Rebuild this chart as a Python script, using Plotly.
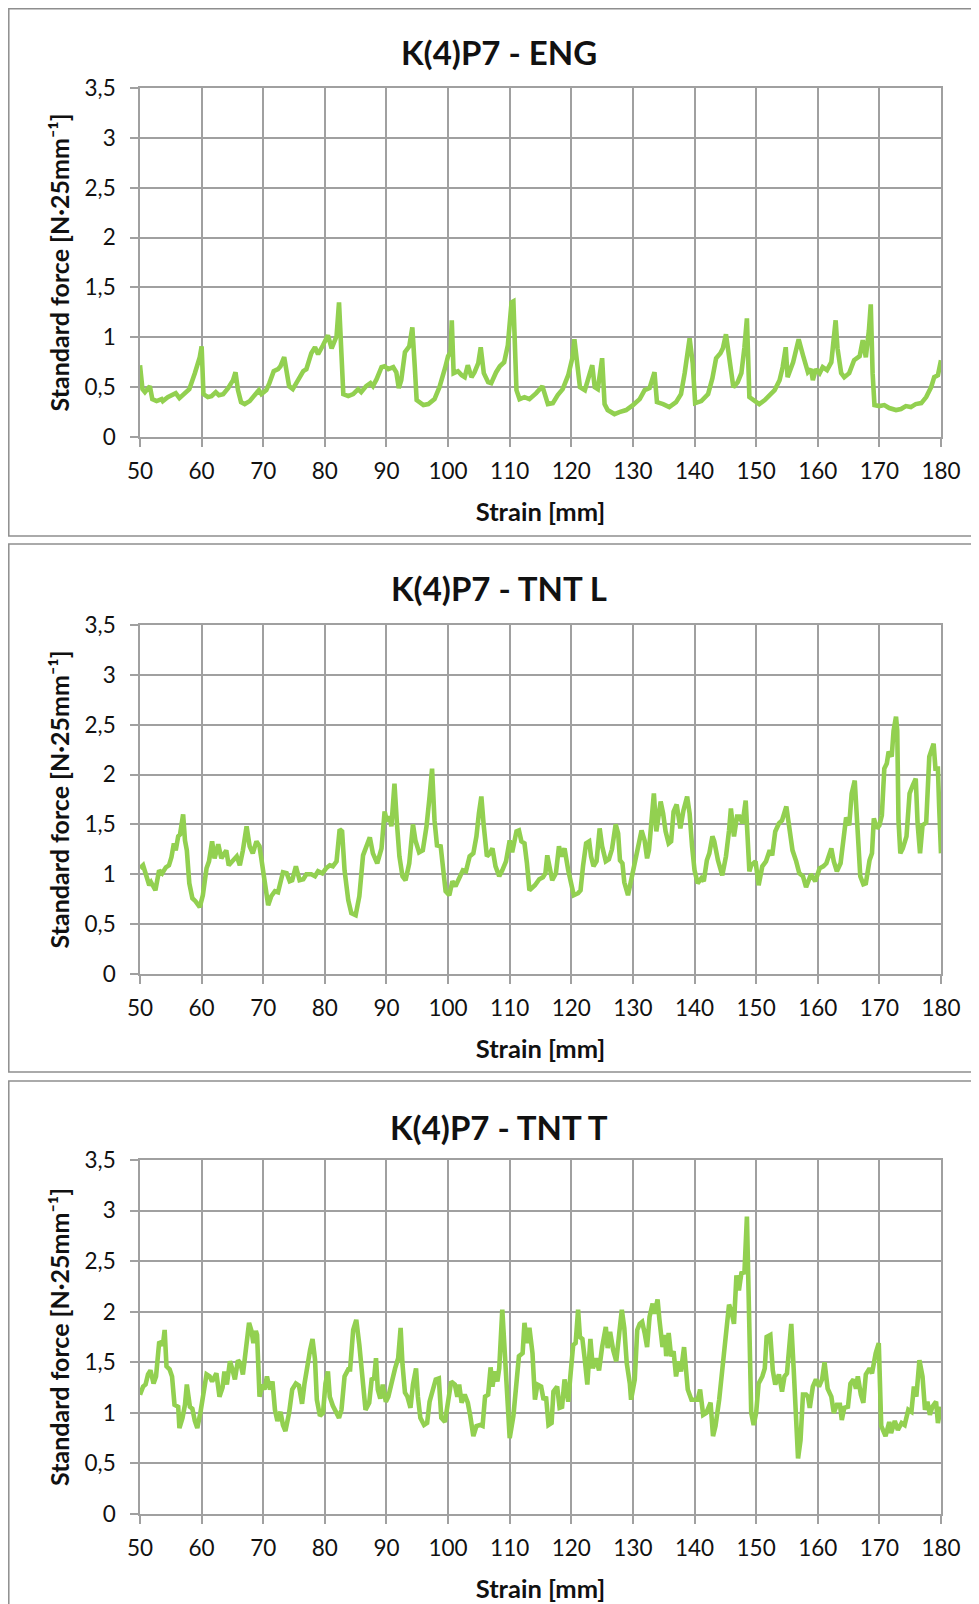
import plotly.graph_objects as go

# Positions below are given in the reference picture's pixels (979x1604).
# The page body has an 8px margin, so figure pixel = picture pixel - 8.
SX, OX = 1.0, 8.0
SY, OY = 1.0, 8.0
FW, FH = 971, 1596

# ---------------- data ----------------
titles = ["K(4)P7 - ENG", "K(4)P7 - TNT L", "K(4)P7 - TNT T"]
x_title = "Strain [mm]"
y_title = "Standard force [N·25mm⁻¹]"
x_tickvals = [50, 60, 70, 80, 90, 100, 110, 120, 130, 140, 150, 160, 170, 180]
x_ticktext = ["50", "60", "70", "80", "90", "100", "110", "120", "130", "140", "150", "160", "170", "180"]
y_tickvals = [0, 0.5, 1, 1.5, 2, 2.5, 3, 3.5]
y_ticktext = ["0", "0,5", "1", "1,5", "2", "2,5", "3", "3,5"]

strain_eng = [
    50, 50.4, 50.8, 51.6, 52, 52.7, 53.5, 53.7, 54.5, 55.4,
    55.8, 56.4, 57.3, 58, 58.9, 59.7, 60, 60.3, 61, 61.6,
    62.3, 62.8, 63.5, 64.3, 65.1, 65.5, 65.9, 66.4, 67, 67.8,
    68.6, 69.3, 69.7, 70.5, 71, 71.7, 72.4, 72.8, 73.4, 73.8,
    74.2, 74.8, 75.6, 76.5, 77, 77.8, 78.4, 78.9, 79.7, 80.5,
    81.1, 81.9, 82.3, 82.6, 83, 83.8, 84.6, 85.4, 85.9, 86.7,
    87.4, 87.8, 88.4, 89.2, 89.7, 90.3, 91.1, 91.6, 92, 92.4,
    93, 93.7, 94.2, 94.6, 94.9, 96, 96.8, 97.8, 98.6, 99.5,
    100, 100.4, 100.6, 100.9, 101.6, 102.2, 102.7, 103.2, 103.8, 104.3,
    104.9, 105.3, 105.8, 106.5, 107, 107.8, 108.4, 109.1, 109.7, 110.3,
    110.6, 111.1, 111.6, 112.4, 113.2, 114.3, 115.3, 116.2, 117, 117.8,
    118.6, 119.5, 120.2, 120.5, 120.9, 121.4, 122.2, 122.9, 123.4, 123.8,
    124.3, 125, 125.4, 125.9, 127, 127.8, 128.9, 130, 131.1, 131.9,
    132.7, 133.5, 133.9, 134.9, 135.9, 137, 137.8, 138.4, 138.9, 139.2,
    139.7, 140.1, 141.1, 142.2, 142.9, 143.5, 144.2, 144.6, 145.1, 145.7,
    146.3, 147, 147.6, 148.1, 148.5, 148.9, 149.7, 150.5, 151.4, 152.2,
    153, 153.8, 154.3, 154.8, 155.1, 156, 156.5, 156.9, 157.6, 158.4,
    158.9, 159.2, 159.7, 160.3, 160.8, 161.5, 162.2, 162.6, 162.9, 163.2,
    163.8, 164.3, 165.1, 165.9, 166.8, 167.3, 167.8, 168.3, 168.6, 168.9,
    169.2, 170, 170.8, 171.6, 172.7, 173.5, 174.3, 175.1, 175.9, 176.8,
    177.6, 178.4, 178.9, 179.5, 180,
]
force_eng = [
    0.72, 0.48, 0.45, 0.51, 0.38, 0.36, 0.38, 0.36, 0.40, 0.42,
    0.44, 0.39, 0.45, 0.48, 0.64, 0.80, 0.91, 0.43, 0.40, 0.41,
    0.45, 0.42, 0.43, 0.49, 0.57, 0.65, 0.47, 0.35, 0.33, 0.36,
    0.42, 0.47, 0.43, 0.47, 0.54, 0.66, 0.68, 0.71, 0.80, 0.65,
    0.51, 0.48, 0.57, 0.66, 0.68, 0.84, 0.90, 0.83, 0.92, 1.02,
    0.89, 1.01, 1.35, 0.90, 0.43, 0.41, 0.43, 0.48, 0.45, 0.51,
    0.54, 0.51, 0.58, 0.70, 0.71, 0.68, 0.70, 0.65, 0.49, 0.57,
    0.85, 0.91, 1.10, 0.70, 0.37, 0.32, 0.33, 0.38, 0.50, 0.69,
    0.81, 0.85, 1.17, 0.64, 0.66, 0.62, 0.60, 0.72, 0.60, 0.65,
    0.74, 0.90, 0.64, 0.55, 0.54, 0.65, 0.71, 0.75, 0.92, 1.35,
    1.36, 0.47, 0.38, 0.40, 0.38, 0.44, 0.51, 0.33, 0.34, 0.42,
    0.48, 0.62, 0.80, 0.98, 0.72, 0.50, 0.47, 0.60, 0.72, 0.50,
    0.48, 0.79, 0.33, 0.27, 0.23, 0.25, 0.27, 0.32, 0.38, 0.47,
    0.49, 0.65, 0.35, 0.33, 0.30, 0.35, 0.43, 0.64, 0.82, 0.99,
    0.74, 0.34, 0.36, 0.43, 0.59, 0.79, 0.84, 0.89, 1.03, 0.74,
    0.50, 0.55, 0.64, 0.90, 1.19, 0.40, 0.37, 0.33, 0.37, 0.42,
    0.47, 0.57, 0.70, 0.90, 0.60, 0.75, 0.87, 0.98, 0.82, 0.65,
    0.68, 0.57, 0.68, 0.64, 0.70, 0.67, 0.75, 0.99, 1.17, 0.89,
    0.64, 0.60, 0.64, 0.77, 0.81, 0.97, 0.80, 1.07, 1.33, 0.64,
    0.32, 0.31, 0.32, 0.29, 0.27, 0.28, 0.31, 0.30, 0.33, 0.34,
    0.40, 0.50, 0.60, 0.62, 0.77,
]

strain_tntl = [
    50, 50.5, 51, 51.5, 51.8, 52.2, 52.5, 53.1, 53.6, 54.2,
    54.7, 55.1, 55.5, 55.8, 56.2, 56.5, 57, 57.3, 57.6, 58,
    58.5, 59, 59.7, 60.2, 60.8, 61.2, 61.7, 62.1, 62.7, 63.2,
    64, 64.4, 65.1, 65.7, 66.2, 66.7, 67.3, 67.8, 68.3, 68.9,
    69.4, 70, 70.4, 70.8, 71.3, 71.9, 72.4, 73.2, 73.8, 74.3,
    74.7, 75.3, 75.9, 76.5, 77, 77.8, 78.4, 78.9, 79.6, 80.2,
    80.8, 81.3, 81.9, 82.4, 82.8, 83.2, 83.8, 84.3, 85, 85.6,
    86.2, 86.7, 87.3, 87.8, 88.5, 89.2, 89.7, 90.1, 90.5, 90.8,
    91.3, 91.7, 92.1, 92.6, 93.1, 93.7, 94.3, 94.7, 95.3, 95.9,
    96.5, 97, 97.4, 97.8, 98.2, 98.8, 99.2, 99.6, 100.2, 100.7,
    101.2, 101.9, 102.4, 102.9, 103.5, 104.1, 104.6, 105, 105.4, 105.8,
    106.3, 106.8, 107.2, 107.7, 108.3, 108.8, 109.4, 110, 110.4, 111.1,
    111.5, 111.9, 112.4, 112.8, 113.2,
    114.1, 114.8, 115.4, 115.8, 116.1, 116.5, 116.9, 117.5, 118, 118.4,
    118.9, 119.5, 119.8, 120.4, 121.1, 121.5, 121.9, 122.4, 122.9, 123.2,
    123.6, 124.1, 124.6, 125, 125.6, 126.1, 126.6, 127.2, 127.6, 127.9,
    128.3, 128.6, 129.2, 129.7, 130.3, 130.8, 131.4, 131.9, 132.3, 132.6,
    133, 133.4, 133.8, 134.5, 134.9, 135.3, 135.8, 136.2, 136.6, 137.1,
    137.7, 138.2, 138.8, 139.2, 139.6, 140, 140.5, 141.1, 141.5, 142,
    142.4, 142.9, 143.2, 143.8, 144.5, 145.1, 145.6, 145.9, 146.4, 146.9,
    147.3, 147.8, 148.3, 148.6, 148.9, 149.2, 149.9, 150.4, 151, 151.6,
    152.2, 152.6, 153.1, 153.7, 154.2, 154.9, 155.4, 155.9, 156.5, 157,
    157.6, 158.1, 158.9, 159.6, 160.3, 160.9, 161.4, 162.2, 162.6, 163.1,
    163.7, 164.1, 164.6, 165.1, 165.5, 166, 166.4, 166.9, 167.4, 167.8,
    168.4, 168.8, 169.1, 169.6, 170, 170.4, 170.8, 171.2, 171.5, 172,
    172.3, 172.7, 172.9, 173.1, 173.4, 173.8, 174.4, 174.9, 175.4, 175.9,
    176.2, 176.6, 177, 177.6, 178.1, 178.8, 179.1, 179.5, 179.7, 180,
]
force_tntl = [
    1.06, 1.09, 0.99, 0.89, 0.92, 0.88, 0.84, 1.04, 1.01, 1.07,
    1.09, 1.17, 1.31, 1.24, 1.38, 1.40, 1.60, 1.34, 1.24, 0.91,
    0.76, 0.73, 0.67, 0.79, 1.06, 1.13, 1.33, 1.16, 1.30, 1.16,
    1.24, 1.09, 1.13, 1.18, 1.09, 1.24, 1.48, 1.28, 1.21, 1.33,
    1.28, 1.04, 0.83, 0.69, 0.78, 0.83, 0.82, 1.02, 1.01, 0.93,
    0.94, 1.08, 0.94, 0.95, 1.00, 1.00, 0.98, 1.03, 1.01, 1.06,
    1.09, 1.08, 1.13, 1.45, 1.43, 1.04, 0.74, 0.61, 0.59, 0.78,
    1.19, 1.28, 1.37, 1.21, 1.11, 1.26, 1.63, 1.53, 1.58, 1.48,
    1.91, 1.51, 1.18, 0.98, 0.94, 1.11, 1.50, 1.34, 1.22, 1.24,
    1.48, 1.78, 2.06, 1.54, 1.29, 1.28, 1.04, 0.83, 0.79, 0.93,
    0.88, 0.98, 1.04, 1.03, 1.18, 1.21, 1.38, 1.61, 1.78, 1.48,
    1.18, 1.21, 1.26, 1.08, 0.98, 1.04, 1.13, 1.34, 1.22, 1.43,
    1.44, 1.33, 1.31, 1.11, 0.84,
    0.89, 0.95, 0.97, 1.01, 1.19, 1.08, 0.94, 1.01, 1.28, 1.18,
    1.26, 1.04, 0.94, 0.79, 0.81, 0.84, 1.08, 1.31, 1.33, 1.18,
    1.08, 1.13, 1.46, 1.28, 1.13, 1.15, 1.25, 1.50, 1.41, 1.14,
    1.11, 0.92, 0.79, 0.93, 1.13, 1.24, 1.44, 1.34, 1.16, 1.24,
    1.61, 1.81, 1.43, 1.73, 1.61, 1.43, 1.31, 1.33, 1.63, 1.70,
    1.46, 1.64, 1.78, 1.61, 1.28, 1.04, 0.91, 0.96, 0.93, 1.14,
    1.21, 1.38, 1.33, 1.14, 0.99, 1.18, 1.44, 1.66, 1.38, 1.58,
    1.58, 1.51, 1.74, 1.38, 1.03, 1.09, 1.13, 0.89, 1.08, 1.13,
    1.24, 1.19, 1.43, 1.51, 1.54, 1.68, 1.48, 1.24, 1.13, 1.01,
    0.98, 0.87, 1.00, 0.93, 1.06, 1.08, 1.11, 1.26, 1.13, 1.03,
    1.11, 1.34, 1.57, 1.49, 1.81, 1.94, 1.48, 0.98, 0.90, 0.91,
    1.14, 1.21, 1.56, 1.46, 1.49, 1.59, 2.06, 2.11, 2.23, 2.18,
    2.44, 2.58, 2.44, 1.54, 1.21, 1.26, 1.38, 1.81, 1.89, 1.96,
    1.51, 1.21, 1.49, 1.52, 2.18, 2.31, 2.06, 2.06, 1.68, 1.21,
]

strain_tntt = [
    50, 50.5, 50.9, 51.3, 51.7, 52.2, 52.6, 53.1, 53.5, 53.7,
    54, 54.3, 54.8, 55.2, 55.6, 56.2, 56.4, 56.9, 57.3, 57.6,
    58.1, 58.5, 58.9, 59.3, 59.8, 60.2, 60.8, 61.3, 61.7, 62.4,
    62.9, 63.4, 63.7, 64.1, 64.6, 65, 65.4, 65.9, 66.3, 66.7,
    67.1, 67.7, 68.1, 68.4, 68.8, 69, 69.4, 69.9, 70.2, 70.6,
    71.1, 71.5, 71.9, 72.3, 72.8, 73.2, 73.6, 74.2, 74.7, 75.3,
    75.8, 76.3, 76.7, 77.3, 77.6, 78, 78.4, 78.7, 79.2, 79.7,
    80.1, 80.5, 80.8, 81.3, 81.9, 82.3, 82.7, 83.2, 83.8, 84.1,
    84.6, 85.1, 85.6, 86.1, 86.6, 87.2, 87.6, 88, 88.3, 88.6,
    89, 89.4, 89.9, 90.3, 90.8, 91.4, 91.9, 92.3, 92.6, 93,
    93.4, 93.9, 94.3, 94.8, 95.1, 95.5, 96.1, 96.6, 97, 97.6,
    98, 98.5, 98.9, 99.5, 100, 100.5, 101.1, 101.5, 101.8, 102.2,
    102.7, 103.2, 103.6, 104.1, 104.6, 105.2, 105.6, 106, 106.5, 106.9,
    107.2, 107.6, 108, 108.3, 108.8, 109.2, 109.6, 110, 110.6, 111.1,
    111.5, 112.1, 112.4, 112.8, 113.2,
    113.7, 114.1, 114.5, 115.1, 115.5, 115.9, 116.3, 116.8, 117.1, 117.7,
    118.1, 118.5, 118.9, 119.5, 119.8, 120.3, 120.7, 121.1, 121.4, 121.8,
    122.2, 122.6, 123.1, 123.5, 124, 124.5, 125, 125.6, 125.9, 126.3,
    126.8, 127.3, 127.8, 128.2, 128.6, 129, 129.5, 129.7, 130.3, 130.7,
    131.1, 131.5, 131.9, 132.3, 132.7, 133.2, 133.5, 134, 134.3, 134.8,
    135.2, 135.4, 135.8, 136.2, 136.6, 137, 137.4, 137.8, 138.3, 138.6,
    138.9, 139.5, 140, 140.5, 140.9, 141.4, 141.9, 142.6, 143, 143.4,
    144, 144.5, 145.1, 145.6, 146, 146.4, 146.8, 147.2, 147.6, 148.1,
    148.5, 148.8, 149.2, 149.6, 150, 150.4, 151, 151.4, 151.7, 152.3,
    152.7, 153.1, 153.7, 154.2, 154.6, 155, 155.7, 156.1, 156.4, 156.8,
    157.2, 157.6, 158.1, 158.4, 158.7, 159.2, 159.7, 160.2, 160.7, 161.1,
    161.6, 162.2, 162.6, 163.1, 163.6, 163.9, 164.3, 164.9, 165.3, 165.8,
    166.2, 166.5, 167, 167.4, 167.8, 168.4, 168.8, 169.4, 169.9, 170.3,
    171, 171.6, 171.9, 172.5, 173, 173.6, 174.1, 174.7, 175.2, 175.6,
    176, 176.5, 177, 177.4, 177.8, 178.2, 178.6, 179.2, 179.5, 180,
]
force_tntt = [
    1.18, 1.26, 1.28, 1.38, 1.42, 1.29, 1.36, 1.69, 1.70, 1.66,
    1.82, 1.46, 1.43, 1.36, 1.08, 1.06, 0.85, 0.95, 1.08, 1.28,
    1.06, 1.04, 0.92, 0.85, 1.00, 1.16, 1.38, 1.36, 1.31, 1.39,
    1.16, 1.25, 1.41, 1.28, 1.51, 1.43, 1.33, 1.52, 1.49, 1.38,
    1.61, 1.89, 1.81, 1.69, 1.81, 1.77, 1.16, 1.28, 1.23, 1.36,
    1.23, 1.31, 1.03, 0.92, 1.01, 0.88, 0.82, 1.00, 1.23, 1.29,
    1.27, 1.09, 1.29, 1.56, 1.62, 1.73, 1.53, 1.13, 0.97, 1.00,
    1.29, 1.41, 1.16, 1.07, 1.01, 0.95, 1.03, 1.36, 1.43, 1.43,
    1.82, 1.92, 1.67, 1.36, 1.03, 1.10, 1.33, 1.34, 1.54, 1.23,
    1.14, 1.28, 1.11, 1.16, 1.31, 1.44, 1.54, 1.84, 1.48, 1.20,
    1.16, 1.05, 1.28, 1.44, 1.16, 0.95, 0.88, 0.90, 1.11, 1.26,
    1.33, 1.34, 0.95, 0.91, 1.11, 1.31, 1.28, 1.16, 1.28, 1.10,
    1.18, 1.10, 0.97, 0.77, 0.87, 0.88, 0.87, 1.16, 1.18, 1.45,
    1.26, 1.41, 1.31, 1.44, 2.02, 1.56, 1.23, 0.75, 0.97, 1.29,
    1.56, 1.59, 1.89, 1.69, 1.84,
    1.59, 1.13, 1.28, 1.26, 1.13, 1.16, 0.88, 0.90, 1.21, 1.26,
    1.05, 1.06, 1.33, 1.11, 1.33, 1.67, 1.69, 2.02, 1.75, 1.73,
    1.52, 1.28, 1.73, 1.44, 1.54, 1.42, 1.65, 1.85, 1.64, 1.80,
    1.62, 1.51, 1.80, 2.02, 1.84, 1.49, 1.29, 1.13, 1.33, 1.82,
    1.88, 1.90, 1.79, 1.65, 1.95, 2.08, 1.98, 2.12, 1.92, 1.65,
    1.77, 1.56, 1.79, 1.56, 1.61, 1.36, 1.51, 1.41, 1.65, 1.46,
    1.23, 1.13, 1.13, 1.13, 1.23, 0.98, 1.00, 1.10, 0.77, 0.87,
    1.13, 1.41, 1.72, 2.07, 2.00, 1.88, 2.36, 2.21, 2.38, 2.39,
    2.94, 1.98, 1.00, 0.88, 1.00, 1.29, 1.36, 1.44, 1.75, 1.77,
    1.42, 1.28, 1.38, 1.21, 1.36, 1.39, 1.88, 1.42, 0.93, 0.55,
    0.73, 1.18, 1.18, 1.16, 1.05, 1.26, 1.33, 1.26, 1.33, 1.50,
    1.24, 1.16, 1.00, 1.08, 1.08, 0.93, 1.05, 1.06, 1.29, 1.33,
    1.24, 1.36, 1.18, 1.10, 1.38, 1.44, 1.39, 1.59, 1.69, 0.87,
    0.77, 0.91, 0.80, 0.92, 0.83, 0.90, 0.88, 1.03, 1.01, 1.26,
    1.16, 1.52, 1.36, 1.03, 1.11, 0.98, 1.06, 1.11, 0.90, 1.06,
]

series = [(strain_eng, force_eng), (strain_tntl, force_tntl), (strain_tntt, force_tntt)]

# ---------------- layout (reference pixels) ----------------
plot_left, plot_right = 140, 941
plot_top = [88, 625, 1160]
plot_bot = [437, 974, 1514]
frame_top = [8, 544, 1081]
frame_bot = [536, 1072, 1660]
title_y = [52, 588, 1127]

FONT = "Lato, 'Open Sans', sans-serif"
LINE_GREEN = "#92D050"
GRID = "#A0A0A0"
FRAME = "#8E8E8E"
TXT = "#111111"


def px(x):
    f = (x - OX) / SX
    return max(f, 0.8) / FW


def py(y):
    f = (y - OY) / SY
    return 1 - max(f, 0.8) / FH


fig = go.Figure()
layout = dict(
    width=FW, height=FH,
    margin=dict(l=0, r=0, t=0, b=0, autoexpand=False),
    paper_bgcolor="white", plot_bgcolor="white",
    showlegend=False,
    font=dict(family=FONT, color=TXT),
)
shapes = []
annotations = []

for i, (xs, ys) in enumerate(series):
    n = i + 1
    xa = "x" if n == 1 else f"x{n}"
    ya = "y" if n == 1 else f"y{n}"
    fig.add_trace(go.Scatter(
        x=xs, y=ys, xaxis=xa, yaxis=ya, mode="lines",
        line=dict(color=LINE_GREEN, width=4.6), hoverinfo="skip",
    ))
    axis_common = dict(
        showgrid=True, gridcolor=GRID, gridwidth=1.5,
        showline=True, linecolor=GRID, linewidth=1.5, mirror=True,
        ticks="outside", ticklen=8, tickcolor=GRID, tickwidth=1.5,
        zeroline=False, tickfont=dict(family=FONT, size=22.5, color=TXT),
        fixedrange=True, automargin=False,
    )
    layout["xaxis" if n == 1 else f"xaxis{n}"] = dict(
        axis_common,
        domain=[px(plot_left), px(plot_right)],
        anchor=ya, range=[50, 180],
        tickmode="array", tickvals=x_tickvals, ticktext=x_ticktext,
        ticklabelstandoff=5,
        title=dict(text=f"<b>{x_title}</b>", standoff=20,
                   font=dict(family=FONT, size=25.5, color=TXT)),
    )
    layout["yaxis" if n == 1 else f"yaxis{n}"] = dict(
        axis_common,
        domain=[py(plot_bot[i]), py(plot_top[i])],
        anchor=xa, range=[0, 3.5],
        tickmode="array", tickvals=y_tickvals, ticktext=y_ticktext,
        ticklabelstandoff=10,
        title=dict(text=f"<b>{y_title}</b>", standoff=8,
                   font=dict(family=FONT, size=25, color=TXT)),
    )
    shapes.append(dict(
        type="rect", xref="paper", yref="paper", layer="below",
        x0=px(frame_top[0]), x1=px(1030), y0=py(frame_bot[i]), y1=py(frame_top[i]),
        line=dict(color=FRAME, width=1.5), fillcolor="rgba(0,0,0,0)",
    ))
    annotations.append(dict(
        text=f"<b>{titles[i]}</b>", xref="paper", yref="paper",
        x=px(499), y=py(title_y[i]), xanchor="center", yanchor="middle",
        showarrow=False, font=dict(family=FONT, size=33, color=TXT),
    ))

layout["shapes"] = shapes
layout["annotations"] = annotations
fig.update_layout(**layout)
fig.write_html("out.html")
